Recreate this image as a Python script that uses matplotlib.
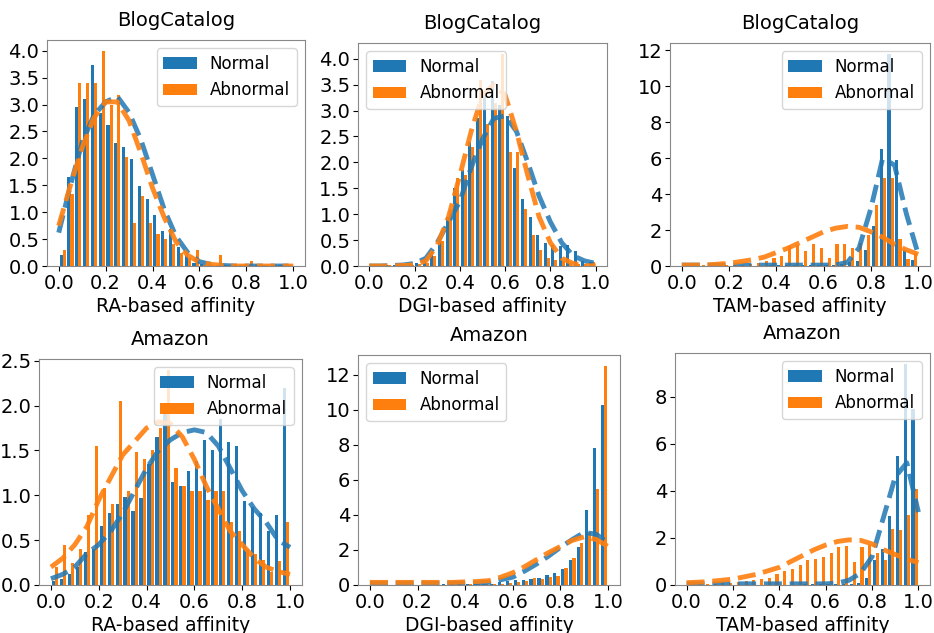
import numpy as np
import matplotlib
matplotlib.use("Agg")
import matplotlib.pyplot as plt
from matplotlib.ticker import MultipleLocator, FormatStrFormatter

# 30 bins on [0, 1]; bar heights are densities
n_bins = 30
curve_x = [0.0, 0.05, 0.1, 0.15, 0.2, 0.25, 0.3, 0.35, 0.4, 0.45, 0.5,
           0.55, 0.6, 0.65, 0.7, 0.75, 0.8, 0.85, 0.9, 0.95, 1.0]

titles = ["BlogCatalog", "BlogCatalog", "BlogCatalog", "Amazon", "Amazon", "Amazon"]
xlabels = ["RA-based affinity", "DGI-based affinity", "TAM-based affinity",
           "RA-based affinity", "DGI-based affinity", "TAM-based affinity"]
legend_locs = ["upper right", "upper left", "upper right",
               "upper right", "upper left", "upper right"]
y_steps = [0.5, 0.5, 2, 0.5, 2, 2]
y_formats = ["%.1f", "%.1f", "%d", "%.1f", "%d", "%d"]

# BlogCatalog / RA
bc_ra_normal = [0.2, 1.65, 2.95, 3.1, 3.73, 2.85, 2.62, 2.28, 2.22, 1.98,
                1.48, 1.25, 0.95, 0.65, 0.68, 0.35, 0.2, 0.05, 0.04, 0.03,
                0.02, 0.02, 0.01, 0.02, 0.01, 0.01, 0.01, 0.01, 0.01, 0.01]
bc_ra_abnormal = [0.3, 1.33, 3.4, 3.4, 3.4, 4.0, 3.0, 3.18, 2.03, 0.8,
                  1.3, 0.8, 0.6, 0.5, 0.4, 0.25, 0.15, 0.3, 0.02, 0.02,
                  0.2, 0.02, 0.02, 0.02, 0.1, 0.02, 0.02, 0.02, 0.02, 0.02]
bc_ra_normal_fit = [0.62, 1.5, 2.3, 2.8, 3.05, 3.15, 2.85, 2.35, 1.7, 1.05, 0.55,
                    0.25, 0.08, 0.03, 0.01, 0.0, 0.0, 0.0, 0.0, 0.0, 0.0]
bc_ra_abnormal_fit = [0.75, 1.5, 2.2, 2.75, 3.05, 3.05, 2.7, 2.1, 1.45, 0.9, 0.45,
                      0.2, 0.07, 0.03, 0.01, 0.0, 0.0, 0.0, 0.0, 0.0, 0.0]

# BlogCatalog / DGI
bc_dgi_normal = [0.02, 0.02, 0.01, 0.02, 0.03, 0.03, 0.05, 0.12, 0.25, 0.55,
                 0.95, 1.5, 1.85, 2.4, 2.85, 3.3, 3.58, 3.1, 2.9, 1.9,
                 1.3, 0.95, 0.6, 0.45, 0.4, 0.38, 0.4, 0.28, 0.1, 0.08]
bc_dgi_abnormal = [0.02, 0.01, 0.02, 0.01, 0.02, 0.02, 0.03, 0.05, 0.2, 0.48,
                   1.08, 1.7, 1.75, 2.3, 3.6, 2.75, 3.15, 4.1, 2.2, 2.2,
                   1.1, 0.6, 0.3, 0.15, 0.12, 0.1, 0.05, 0.03, 0.03, 0.08]
bc_dgi_normal_fit = [0.0, 0.0, 0.01, 0.02, 0.05, 0.15, 0.45, 0.85, 1.25, 1.9, 2.45,
                     2.85, 2.9, 2.6, 2.0, 1.35, 0.85, 0.45, 0.2, 0.1, 0.05]
bc_dgi_abnormal_fit = [0.0, 0.0, 0.0, 0.01, 0.02, 0.1, 0.4, 0.95, 1.75, 2.6, 3.3,
                       3.5, 3.3, 2.6, 1.75, 0.95, 0.45, 0.15, 0.05, 0.01, 0.0]

# BlogCatalog / TAM
bc_tam_normal = [0.02, 0.02, 0.02, 0.02, 0.02, 0.02, 0.02, 0.02, 0.02, 0.02,
                 0.02, 0.03, 0.03, 0.03, 0.03, 0.03, 0.04, 0.04, 0.05, 0.05,
                 0.1, 0.2, 0.3, 0.9, 2.2, 6.5, 11.8, 5.9, 0.9, 0.35]
bc_tam_abnormal = [0.03, 0.03, 0.03, 0.03, 0.05, 0.05, 0.05, 0.08, 0.1, 0.15,
                   0.3, 0.45, 0.55, 1.1, 1.15, 0.85, 1.2, 1.0, 0.45, 1.2,
                   1.2, 1.0, 1.3, 1.7, 3.4, 4.9, 4.9, 1.5, 0.4, 0.7]
bc_tam_normal_fit = [0.05, 0.05, 0.05, 0.05, 0.05, 0.05, 0.05, 0.05, 0.05, 0.05, 0.05,
                     0.05, 0.05, 0.06, 0.2, 1.0, 3.2, 6.0, 5.6, 2.9, 0.65]
bc_tam_abnormal_fit = [0.05, 0.05, 0.05, 0.1, 0.15, 0.25, 0.35, 0.5, 0.75, 1.0, 1.3,
                       1.6, 1.9, 2.1, 2.2, 2.15, 1.9, 1.6, 1.2, 0.9, 0.65]

# Amazon / RA
am_ra_normal = [0.05, 0.07, 0.12, 0.2, 0.37, 0.4, 0.66, 0.8, 0.9, 0.98,
                0.82, 0.97, 1.35, 1.65, 1.95, 1.15, 1.1, 1.27, 1.38, 1.62,
                1.5, 1.85, 1.6, 1.55, 0.94, 0.87, 0.8, 0.6, 0.78, 2.2]
am_ra_abnormal = [0.2, 0.45, 0.25, 0.4, 0.78, 1.55, 1.08, 0.9, 2.05, 1.05,
                  1.48, 1.4, 1.5, 1.75, 2.4, 1.3, 1.1, 1.05, 1.05, 0.95,
                  1.05, 1.05, 0.7, 0.6, 0.4, 0.35, 0.28, 0.15, 0.27, 0.7]
am_ra_normal_fit = [0.07, 0.12, 0.2, 0.35, 0.45, 0.6, 0.8, 1.05, 1.3, 1.5, 1.62,
                    1.7, 1.73, 1.7, 1.55, 1.3, 1.05, 0.85, 0.7, 0.5, 0.42]
am_ra_abnormal_fit = [0.2, 0.3, 0.45, 0.65, 0.95, 1.2, 1.45, 1.6, 1.75, 1.82, 1.8,
                      1.65, 1.4, 1.1, 0.85, 0.6, 0.45, 0.3, 0.2, 0.15, 0.12]

# Amazon / DGI
am_dgi_normal = [0.02, 0.02, 0.02, 0.02, 0.02, 0.02, 0.02, 0.02, 0.02, 0.03,
                 0.03, 0.03, 0.04, 0.05, 0.05, 0.08, 0.15, 0.25, 0.3, 0.3,
                 0.35, 0.38, 0.55, 0.68, 0.9, 1.4, 2.18, 4.3, 7.8, 10.3]
am_dgi_abnormal = [0.02, 0.02, 0.02, 0.02, 0.02, 0.02, 0.02, 0.02, 0.02, 0.02,
                   0.02, 0.02, 0.03, 0.03, 0.04, 0.05, 0.08, 0.1, 0.18, 0.2,
                   0.38, 0.35, 0.48, 0.52, 0.95, 1.55, 2.4, 3.0, 5.5, 12.5]
am_dgi_normal_fit = [0.1, 0.1, 0.1, 0.1, 0.1, 0.1, 0.1, 0.1, 0.1, 0.12, 0.15,
                     0.3, 0.45, 0.8, 1.2, 1.65, 2.15, 2.6, 3.0, 2.9, 2.4]
am_dgi_abnormal_fit = [0.15, 0.15, 0.15, 0.15, 0.15, 0.15, 0.15, 0.15, 0.18, 0.2, 0.25,
                       0.45, 0.7, 1.05, 1.45, 1.85, 2.2, 2.55, 2.75, 2.6, 2.2]

# Amazon / TAM
am_tam_normal = [0.02, 0.02, 0.02, 0.02, 0.02, 0.02, 0.02, 0.02, 0.02, 0.02,
                 0.02, 0.02, 0.02, 0.02, 0.02, 0.03, 0.03, 0.03, 0.04, 0.05,
                 0.05, 0.06, 0.1, 0.3, 1.05, 1.55, 2.95, 5.5, 9.4, 7.5]
am_tam_abnormal = [0.05, 0.05, 0.05, 0.05, 0.08, 0.1, 0.12, 0.15, 0.2, 0.25,
                   0.3, 0.45, 0.6, 0.7, 0.83, 1.05, 1.1, 1.2, 1.35, 1.6,
                   1.65, 0.97, 1.6, 1.7, 1.35, 1.05, 2.4, 2.33, 2.98, 4.07]
am_tam_normal_fit = [0.05, 0.05, 0.05, 0.05, 0.05, 0.05, 0.05, 0.05, 0.05, 0.05, 0.05,
                     0.05, 0.05, 0.08, 0.2, 0.5, 1.2, 2.9, 4.6, 5.2, 3.1]
am_tam_abnormal_fit = [0.1, 0.12, 0.15, 0.2, 0.25, 0.35, 0.45, 0.6, 0.75, 1.0, 1.25,
                       1.5, 1.7, 1.85, 1.92, 1.9, 1.75, 1.5, 1.3, 1.1, 0.95]

normal_bars = [bc_ra_normal, bc_dgi_normal, bc_tam_normal,
               am_ra_normal, am_dgi_normal, am_tam_normal]
abnormal_bars = [bc_ra_abnormal, bc_dgi_abnormal, bc_tam_abnormal,
                 am_ra_abnormal, am_dgi_abnormal, am_tam_abnormal]
normal_fits = [bc_ra_normal_fit, bc_dgi_normal_fit, bc_tam_normal_fit,
               am_ra_normal_fit, am_dgi_normal_fit, am_tam_normal_fit]
abnormal_fits = [bc_ra_abnormal_fit, bc_dgi_abnormal_fit, bc_tam_abnormal_fit,
                 am_ra_abnormal_fit, am_dgi_abnormal_fit, am_tam_abnormal_fit]

# axes rectangles in pixels: left, top, right, bottom
W, H = 934, 633
boxes = [(47, 40, 305, 266), (358, 43, 607, 266), (670, 43, 930, 266),
         (39, 359, 302, 585), (358, 355, 620, 585), (675, 353, 930, 585)]

fig = plt.figure(figsize=(W / 100, H / 100), dpi=100)

edges = np.linspace(0, 1, n_bins + 1)
centers = (edges[:-1] + edges[1:]) / 2

for i in range(6):
    l, t, r, b = boxes[i]
    ax = fig.add_axes([l / W, 1 - b / H, (r - l) / W, (b - t) / H])
    ax.hist([centers, centers], bins=edges,
            weights=[normal_bars[i], abnormal_bars[i]],
            color=["C0", "C1"], label=["Normal", "Abnormal"])
    ax.plot(curve_x, normal_fits[i], "--", color="C0", lw=3.5, alpha=0.85)
    ax.plot(curve_x, abnormal_fits[i], "--", color="C1", lw=3.5, alpha=0.9)
    ax.set_title(titles[i], fontsize=14, pad=10)
    ax.set_xlabel(xlabels[i], fontsize=13.5, labelpad=3)
    ax.set_xticks([0.0, 0.2, 0.4, 0.6, 0.8, 1.0])
    ax.yaxis.set_major_locator(MultipleLocator(y_steps[i]))
    ax.yaxis.set_major_formatter(FormatStrFormatter(y_formats[i]))
    ax.tick_params(labelsize=14, pad=2)
    for s in ax.spines.values():
        s.set_edgecolor("#888888")
    ax.legend(loc=legend_locs[i], fontsize=12, handlelength=2.0)

fig.savefig("out.png", dpi=100)
